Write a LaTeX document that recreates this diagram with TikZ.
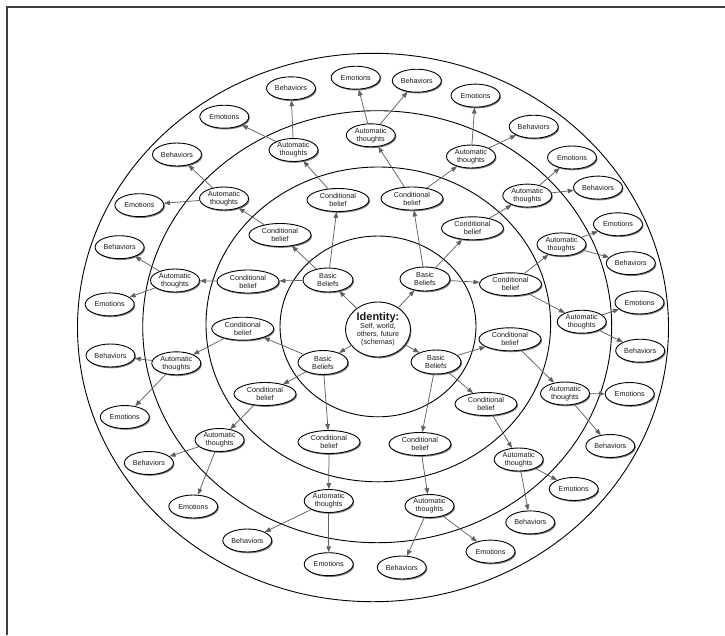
\documentclass[tikz,border=0pt]{standalone}
\usepackage{fontspec}
\setmainfont{Liberation Sans}
\usetikzlibrary{shapes.geometric,arrows.meta,shadows}
\begin{document}
\begin{tikzpicture}[x=1pt,y=-1pt,
  bub/.style={ellipse,draw=black,line width=0.9pt,fill=white,inner sep=0pt,
     minimum width=49pt,minimum height=23pt,align=center,text=black!90,
     font=\fontsize{7.2}{7.9}\selectfont,
     drop shadow={shadow xshift=1pt,shadow yshift=-1.3pt,fill=black,opacity=0.5}},
  cbub/.style={bub,minimum width=62pt},
  bbub/.style={bub,minimum width=50pt,minimum height=24pt},
  idbub/.style={bub,minimum width=65pt,minimum height=55pt},
  ring/.style={draw=black,line width=0.9pt},
  arr/.style={draw=black!62,line width=0.75pt,-{Triangle[length=6pt,width=4.6pt]}},
  frameline/.style={draw=black!75,line width=1.4pt}]
\useasboundingbox (0,0) rectangle (725,635);
\draw[frameline] (7,635) -- (7,7) -- (725,7);
% rings
\draw[ring] (378,326.4) ellipse [x radius=98pt,y radius=90.4pt];
\draw[ring] (378.3,324.4) ellipse [x radius=172.3pt,y radius=157.4pt];
\draw[ring] (377.2,326.7) ellipse [x radius=234.5pt,y radius=216pt];
\draw[ring] (373,327.5) ellipse [x radius=295.5pt,y radius=274.2pt];
% centre
\node[idbub] (id) at (378,329.5) {{\fontsize{11}{11.5}\selectfont\bfseries Identity:}\\Self, world,\\others, future\\(schemas)};
% basic beliefs
\node[bbub] (b1) at (328,280) {Basic\\Beliefs};
\node[bbub] (b2) at (425,279) {Basic\\Beliefs};
\node[bbub] (b3) at (323,362.5) {Basic\\Beliefs};
\node[bbub] (b4) at (436,362) {Basic\\Beliefs};
% conditional beliefs
\foreach \n/\x/\y in {c1/338/200, c2/280/235, c3/248/281.5, c4/412/198.5, c5/472.5/228.3, c6/510.5/284.3,
  c7/242.7/328.7, c8/265/394, c9/329/442, c10/510/339.3, c11/486/404, c12/420/444}
  \node[cbub] (\n) at (\x,\y) {Conditional\\belief};
% automatic thoughts
\foreach \n/\x/\y in {a1/293.5/150, a2/370.8/135.3, a3/471/156.5, a4/527.3/195.6, a5/561.5/244.4,
  a6/581.7/321.7, a7/565/393.5, a8/518.7/459.5, a9/429.5/506, a10/328.7/501, a11/219.6/440,
  a12/176.3/363.3, a13/175/280.5, a14/224/198.5}
  \node[bub] (\n) at (\x,\y) {Automatic\\thoughts};
% emotions
\foreach \n/\x/\y in {e1/224.3/116.7, e2/355.7/77.7, e3/475.5/95.6, e4/572/157.5, e5/618/224.3,
  e6/639.5/302.5, e7/629.7/394, e8/573.7/489, e9/490.5/551.6, e10/328.7/564.2, e11/193.3/506.5,
  e12/124.8/417, e13/109.7/304.4, e14/139.4/205.2}
  \node[bub] (\n) at (\x,\y) {Emotions};
% behaviors
\foreach \n/\x/\y in {h1/291/88.3, h2/416.8/80.7, h3/533.7/126.7, h4/598/187.6, h5/630.8/263.2,
  h6/640.2/350.7, h7/610.3/446, h8/530.3/522.4, h9/401.8/567.5, h10/247.3/540.5, h11/148.9/463,
  h12/110.5/355.5, h13/119.6/247.2, h14/177/154.5}
  \node[bub] (\n) at (\x,\y) {Behaviors};
% connectors
\foreach \s/\t in {id/b1, id/b2, id/b3, id/b4,
  b1/c1, b1/c2, b1/c3, b2/c4, b2/c5, b2/c6, b3/c7, b3/c8, b3/c9, b4/c10, b4/c11, b4/c12,
  c1/a1, c2/a14, c3/a13, c4/a2, c4/a3, c5/a4, c6/a5, c6/a6, c7/a12, c8/a11, c9/a10,
  c10/a7, c11/a8, c12/a9}
  \draw[arr] (\s) -- (\t);
\foreach \i in {1,...,14}
  {\draw[arr] (a\i) -- (e\i); \draw[arr] (a\i) -- (h\i);}
\end{tikzpicture}
\end{document}
